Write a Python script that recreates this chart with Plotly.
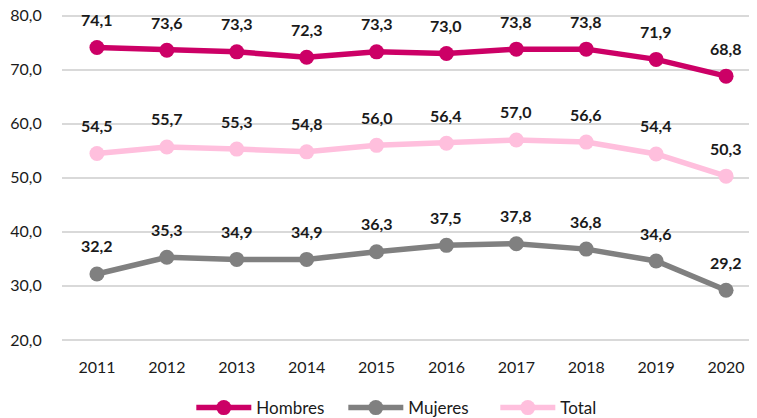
import plotly.graph_objects as go

years = ["2011", "2012", "2013", "2014", "2015", "2016", "2017", "2018", "2019", "2020"]
hombres = [74.1, 73.6, 73.3, 72.3, 73.3, 73.0, 73.8, 73.8, 71.9, 68.8]
mujeres = [32.2, 35.3, 34.9, 34.9, 36.3, 37.5, 37.8, 36.8, 34.6, 29.2]
total = [54.5, 55.7, 55.3, 54.8, 56.0, 56.4, 57.0, 56.6, 54.4, 50.3]
y_ticks = [20, 30, 40, 50, 60, 70, 80]

series = [
    ("Hombres", hombres, "#CC0066"),
    ("Mujeres", mujeres, "#808080"),
    ("Total", total, "#FFBFDD"),
]

FONT = "Lato, Open Sans, sans-serif"

fig = go.Figure()
annotations = []
for name, vals, color in series:
    fig.add_trace(go.Scatter(
        x=years, y=vals, name=name, mode="lines+markers",
        line=dict(color=color, width=5.5),
        marker=dict(color=color, size=15),
    ))
    for i, v in enumerate(vals):
        annotations.append(dict(
            x=i, y=v, xref="x", yref="y",
            text="<b>" + f"{v:.1f}".replace(".", ",") + "</b>",
            showarrow=False, yshift=28, yanchor="middle",
            font=dict(family=FONT, size=16, color="#1a1a1a"),
        ))

# The page body adds an 8px offset, so margins are shifted to compensate.
fig.update_layout(
    width=757, height=418,
    margin=dict(l=54, r=4, t=6.4, b=84.9, autoexpand=False),
    paper_bgcolor="white", plot_bgcolor="white",
    separators=",.",
    font=dict(family=FONT, size=16, color="#1a1a1a"),
    showlegend=True,
    legend=dict(orientation="h", x=0.185, xanchor="left", y=-0.15, yanchor="top",
                font=dict(family=FONT, size=17, color="#1a1a1a"),
                itemwidth=55, entrywidth=82, entrywidthmode="pixels",
                tracegroupgap=0),
    annotations=annotations,
)
fig.update_xaxes(type="category", range=[-0.5, 9.5], showgrid=False, showline=False,
                 zeroline=False, ticks="outside", ticklen=12, tickcolor="rgba(0,0,0,0)",
                 automargin=False, ticklabeloverflow="allow",
                 tickfont=dict(family=FONT, size=16, color="#1a1a1a"))
fig.update_yaxes(range=[19.8, 80.3], tickvals=y_ticks,
                 tickformat=".1f", showgrid=True,
                 gridcolor="#D9D9D9", gridwidth=2, zeroline=False, showline=False,
                 ticks="outside", ticklen=16, tickcolor="rgba(0,0,0,0)",
                 automargin=False, ticklabeloverflow="allow",
                 tickfont=dict(family=FONT, size=16, color="#1a1a1a"))

fig.write_html("out.html")
